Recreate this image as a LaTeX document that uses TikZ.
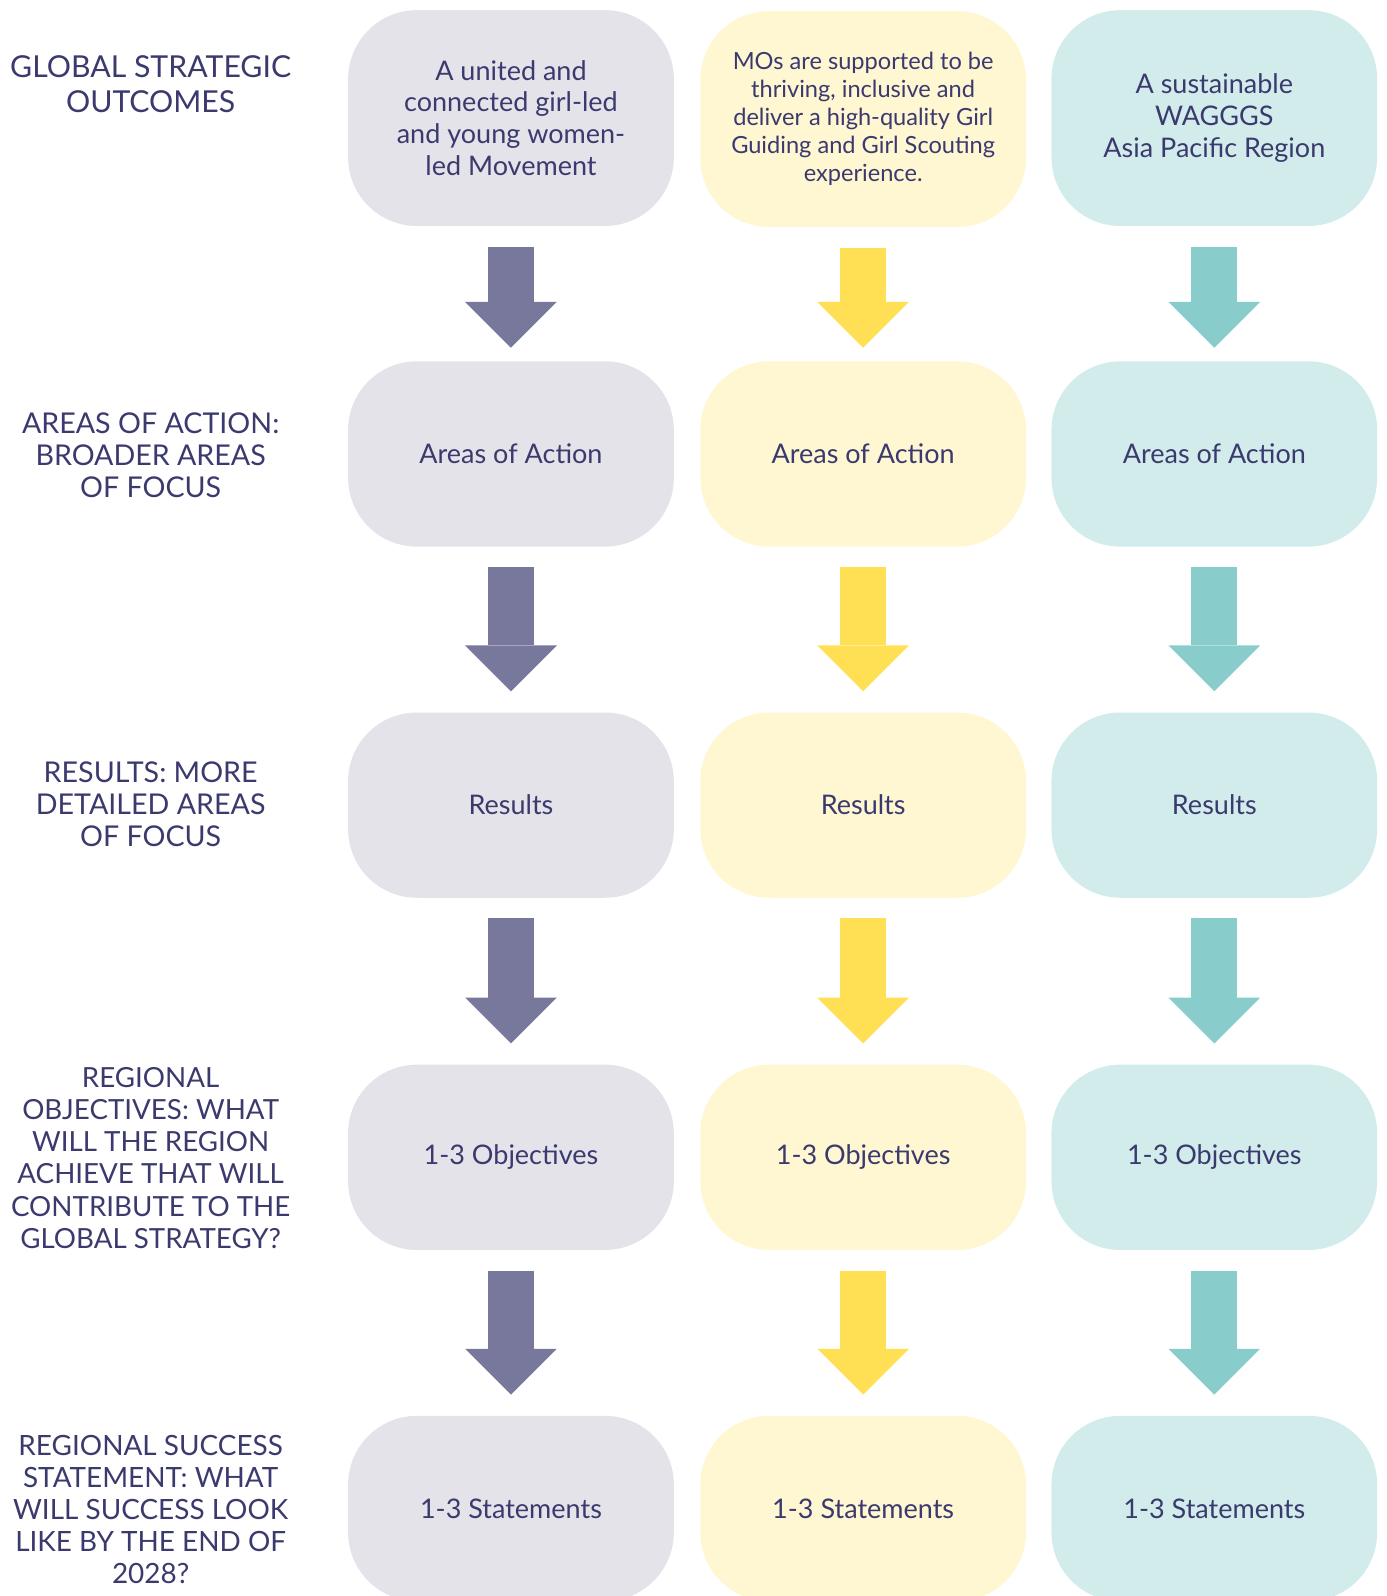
\documentclass[tikz,border=0pt]{standalone}
\usepackage{fontspec}
\setmainfont{Lato}
\usepackage{tikz}
\usetikzlibrary{arrows.meta, positioning}
\definecolor{navytext}{HTML}{3B3A6E}
\definecolor{greyfill}{HTML}{E4E3EA}
\definecolor{yellowfill}{HTML}{FFF6D2}
\definecolor{tealfill}{HTML}{D2ECEC}
\definecolor{purplearrow}{HTML}{78779C}
\definecolor{yellowarrow}{HTML}{FFE055}
\definecolor{tealarrow}{HTML}{88CCCB}

\begin{document}
\begin{tikzpicture}[
    box/.style={
        rounded corners=1.35cm,
        minimum width=6.4cm,
        minimum height=3.64cm,
        inner sep=0pt,
        align=center,
        text=navytext,
        font=\fontsize{15.1}{17.8}\selectfont
    },
    greybox/.style={box, fill=greyfill},
    yellowbox/.style={box, fill=yellowfill},
    tealbox/.style={box, fill=tealfill},
    tallbox/.style={minimum height=4.24cm},
    rowlabel/.style={
        align=center,
        text=navytext,
        font=\fontsize{16}{18}\selectfont
    },
    bigarrow/.style={
        line width=0.9cm,
        -{Triangle[width=1.8cm, length=0.9cm, line width=0pt]},
        shorten <=0.4cm
    }
]

\useasboundingbox (0, 0) rectangle (27.24, -31.36);

% Row labels (left column)
\node[rowlabel, font=\fontsize{16.9}{19.5}\selectfont] (lab1) at (2.96, -1.66) {GLOBAL STRATEGIC\\OUTCOMES};
\node[rowlabel] (lab2) at (2.96, -8.94) {AREAS OF ACTION:\\BROADER AREAS\\OF FOCUS};
\node[rowlabel] (lab3) at (2.96, -15.8) {RESULTS: MORE\\DETAILED AREAS\\OF FOCUS};
\node[rowlabel, font=\fontsize{15.5}{18}\selectfont] (lab4) at (2.96, -22.75) {REGIONAL\\OBJECTIVES: WHAT\\WILL THE REGION\\ACHIEVE THAT WILL\\CONTRIBUTE TO THE\\GLOBAL STRATEGY?};
\node[rowlabel, font=\fontsize{15.6}{18}\selectfont] (lab5) at (2.96, -29.66) {REGIONAL SUCCESS\\STATEMENT: WHAT\\WILL SUCCESS LOOK\\LIKE BY THE END OF\\2028?};

% Global strategic outcomes
\node[greybox, tallbox] (out1) at (10.04, -2.32) {A united and\\connected girl-led\\and young women-\\led Movement};
\node[yellowbox, tallbox, font=\fontsize{13.2}{15.7}\selectfont] (out2) at (16.96, -2.34) {MOs are supported to be\\thriving, inclusive and\\deliver a high-quality Girl\\Guiding and Girl Scouting\\experience.};
\node[tealbox, tallbox] (out3) at (23.86, -2.32) {A sustainable\\WAGGGS\\Asia Pacific Region};

% Areas of action
\node[greybox] (aoa1) at (10.04, -8.92) {Areas of Action};
\node[yellowbox] (aoa2) at (16.96, -8.92) {Areas of Action};
\node[tealbox] (aoa3) at (23.86, -8.92) {Areas of Action};

% Results
\node[greybox] (res1) at (10.04, -15.82) {Results};
\node[yellowbox] (res2) at (16.96, -15.82) {Results};
\node[tealbox] (res3) at (23.86, -15.82) {Results};

% Regional objectives
\node[greybox] (obj1) at (10.04, -22.74) {1-3 Objectives};
\node[yellowbox] (obj2) at (16.96, -22.74) {1-3 Objectives};
\node[tealbox] (obj3) at (23.86, -22.74) {1-3 Objectives};

% Regional success statements
\node[greybox] (stm1) at (10.04, -29.64) {1-3 Statements};
\node[yellowbox] (stm2) at (16.96, -29.64) {1-3 Statements};
\node[tealbox] (stm3) at (23.86, -29.64) {1-3 Statements};

% Arrows down each column
\foreach \a/\b/\g in {out/aoa/0.26cm, aoa/res/0.41cm, res/obj/0.41cm, obj/stm/0.41cm} {
    \foreach \c/\col in {1/purplearrow, 2/yellowarrow, 3/tealarrow} {
        \draw[bigarrow, \col, shorten >=\g] (\a\c.south) -- (\b\c.north);
    }
}

\end{tikzpicture}
\end{document}
